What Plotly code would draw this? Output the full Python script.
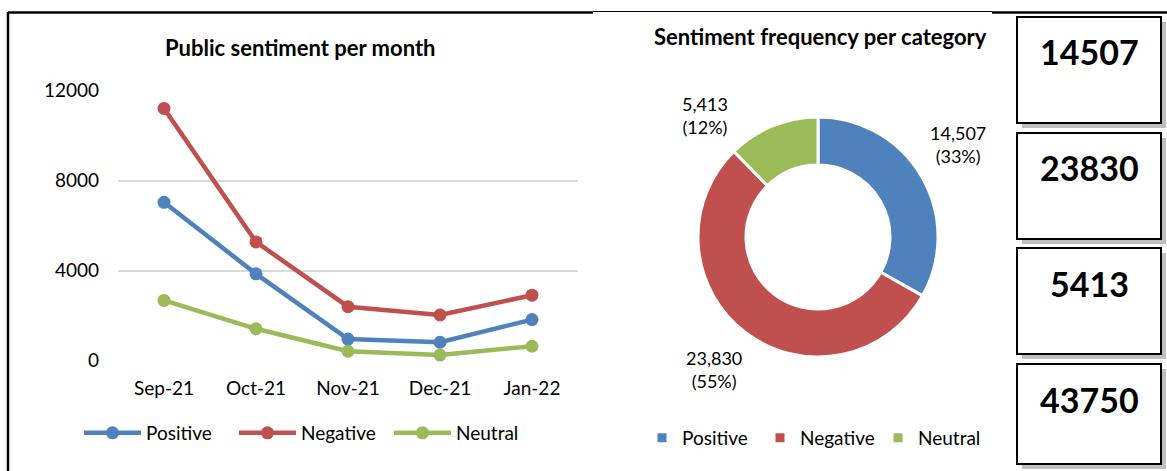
import plotly.graph_objects as go

# ---------------- data ----------------
months = ["Sep-21", "Oct-21", "Nov-21", "Dec-21", "Jan-22"]
positive = [7040, 3860, 960, 820, 1827]
negative = [11210, 5280, 2400, 2030, 2910]
neutral = [2680, 1420, 420, 250, 643]
categories = ["Positive", "Negative", "Neutral"]
y_ticks = [0, 4000, 8000, 12000]

colors = ["#4F81BD", "#C0504D", "#9BBB59"]
FONT = "Lato"

W, H = 1167, 471


def px(x):
    """screen x (pixels) -> paper fraction"""
    return x / W


def py(y):
    """screen y (pixels from top) -> paper fraction"""
    return 1 - y / H


series = [positive, negative, neutral]
totals = [sum(s) for s in series]
grand_total = sum(totals)

# percentages rounded so they add up to 100 (largest remainder)
raw = [t * 100 / grand_total for t in totals]
pcts = [int(r) for r in raw]
order = sorted(range(len(raw)), key=lambda i: raw[i] - pcts[i], reverse=True)
for i in order[: 100 - sum(pcts)]:
    pcts[i] += 1

fig = go.Figure()

for name, vals, c in zip(categories, series, colors):
    fig.add_trace(go.Scatter(
        x=months, y=vals, name=name, mode="lines+markers",
        line=dict(color=c, width=4.5), marker=dict(size=13, color=c),
        legend="legend", cliponaxis=False,
    ))

fig.add_trace(go.Pie(
    labels=categories, values=totals,
    marker=dict(colors=colors, line=dict(color="white", width=3)),
    hole=0.6, sort=False, direction="clockwise", rotation=0,
    textinfo="none", hoverinfo="label+value+percent",
    domain=dict(x=[px(698), px(938)], y=[py(357), py(117)]),
    legend="legend2",
))

annotations = [
    dict(text="<b>Public sentiment per month</b>", x=px(300), y=py(48),
         xref="paper", yref="paper", showarrow=False, xanchor="center", yanchor="middle",
         font=dict(family=FONT, size=22, color="black")),
    dict(text="<b>Sentiment frequency per category</b>", x=px(820), y=py(37),
         xref="paper", yref="paper", showarrow=False, xanchor="center", yanchor="middle",
         font=dict(family=FONT, size=22, color="black")),
]

# donut data labels
label_pos = [(958, 145), (714, 369), (705, 116)]
for v, p, (lx, ly) in zip(totals, pcts, label_pos):
    annotations.append(dict(
        text=f"{v:,}<br>({p}%)", x=px(lx), y=py(ly),
        xref="paper", yref="paper", showarrow=False, align="center",
        xanchor="center", yanchor="middle",
        font=dict(family=FONT, size=18, color="black")))

# KPI boxes
shapes = []
box_tops = [17, 133, 248, 364]
box_bottoms = [123, 239, 354, 464]
bx0, bx1 = 1017, 1161
kpis = totals + [grand_total]
for top, bot, val in zip(box_tops, box_bottoms, kpis):
    shapes.append(dict(type="rect", xref="paper", yref="paper",
                       x0=px(bx0 + 5), x1=px(bx1 + 5), y0=py(bot + 5), y1=py(top + 5),
                       fillcolor="#BFBFBF", line=dict(width=0), layer="above"))
    shapes.append(dict(type="rect", xref="paper", yref="paper",
                       x0=px(bx0), x1=px(bx1), y0=py(bot), y1=py(top),
                       fillcolor="white", line=dict(color="black", width=2), layer="above"))
    annotations.append(dict(
        text=f"<b>{val}</b>", x=px((bx0 + bx1) / 2), y=py(top + 35),
        xref="paper", yref="paper", showarrow=False, xanchor="center", yanchor="middle",
        font=dict(family=FONT, size=34, color="black")))

# panel borders
shapes += [
    dict(type="line", xref="paper", yref="paper", x0=px(8), x1=px(8), y0=0, y1=py(12),
         line=dict(color="black", width=2.5)),
    dict(type="line", xref="paper", yref="paper", x0=px(8), x1=px(593), y0=py(12.5), y1=py(12.5),
         line=dict(color="black", width=2.5)),
    dict(type="line", xref="paper", yref="paper", x0=px(593), x1=px(992), y0=py(11.5), y1=py(11.5),
         line=dict(color="black", width=1.2)),
    dict(type="line", xref="paper", yref="paper", x0=px(992), x1=1, y0=py(12.5), y1=py(12.5),
         line=dict(color="black", width=2.5)),
]

fig.update_layout(
    width=W, height=H,
    margin=dict(l=0, r=0, t=0, b=0, autoexpand=False),
    paper_bgcolor="white", plot_bgcolor="white",
    font=dict(family=FONT, size=19, color="black"),
    xaxis=dict(domain=[px(118), px(578)], type="category", range=[-0.5, 4.5],
               showgrid=False, showline=False, zeroline=False, ticks="", automargin=False,
               tickfont=dict(family=FONT, size=19, color="black"), ticklabelstandoff=14),
    yaxis=dict(domain=[py(360.7), py(90.7)], range=[0, 12000], tickvals=y_ticks,
               ticktext=[str(v) for v in y_ticks],
               showgrid=True, gridcolor="#D9D9D9", gridwidth=1.5, automargin=False,
               showline=False, zeroline=False, ticks="",
               tickfont=dict(family=FONT, size=19, color="black"), ticklabelstandoff=18),
    legend=dict(orientation="h", x=px(79), y=py(433), xanchor="left", yanchor="middle",
                font=dict(family=FONT, size=19, color="black"), bgcolor="rgba(0,0,0,0)",
                itemwidth=57, entrywidth=83, itemclick=False),
    legend2=dict(orientation="h", x=px(642), y=py(438), xanchor="left", yanchor="middle",
                 font=dict(family=FONT, size=19, color="black"), bgcolor="rgba(0,0,0,0)",
                 entrywidth=73),
    annotations=annotations,
    shapes=shapes,
    showlegend=True,
)

fig.write_html(
    "out.html",
    config={"displayModeBar": False},
    post_script="document.body.style.margin='0';document.body.style.overflow='hidden';",
)
